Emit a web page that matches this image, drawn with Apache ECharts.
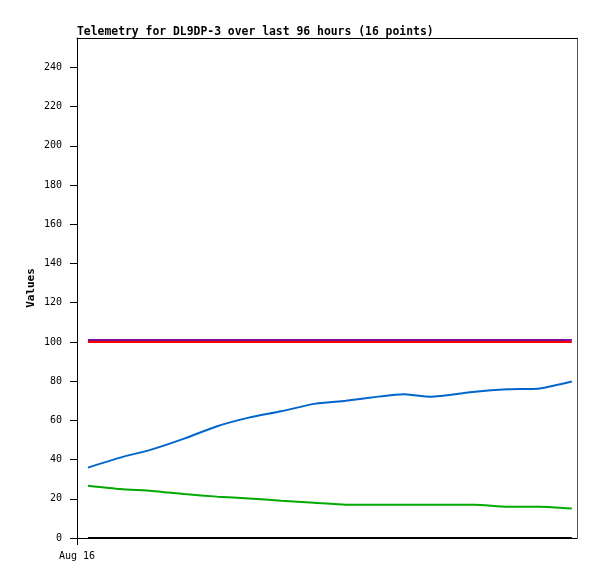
<!DOCTYPE html>
<html>
<head>
<meta charset="utf-8">
<script src="https://cdn.jsdelivr.net/npm/echarts@6/dist/echarts.min.js"></script>
<style>html,body{margin:0;padding:0;background:#fff}#c{width:597px;height:579px}</style>
</head>
<body>
<div id="c"></div>
<script>
// hours since start of window (Aug 16), 16 telemetry points
var hours = [2.1, 8.3, 14.4, 20.7, 26.9, 33.0, 39.2, 45.5, 51.6, 57.8, 62.6, 67.8, 76.4, 82.6, 88.9, 95.0];
var blueValues = [35.9, 41.0, 45.2, 50.8, 57.0, 61.4, 64.6, 68.4, 70.0, 72.1, 73.3, 72.1, 74.6, 75.8, 76.3, 79.8];
var greenValues = [26.7, 25.0, 24.0, 22.4, 21.1, 20.2, 19.0, 18.0, 17.0, 17.0, 17.0, 17.0, 17.0, 16.0, 16.0, 15.0];
var purpleValues = [101, 101, 101, 101, 101, 101, 101, 101, 101, 101, 101, 101, 101, 101, 101, 101];
var redValues = [100, 100, 100, 100, 100, 100, 100, 100, 100, 100, 100, 100, 100, 100, 100, 100];
var blackValues = [0, 0, 0, 0, 0, 0, 0, 0, 0, 0, 0, 0, 0, 0, 0, 0];
var yTicks = [0, 20, 40, 60, 80, 100, 120, 140, 160, 180, 200, 220, 240];
var xTickLabel = 'Aug 16';
var titleText = 'Telemetry for DL9DP-3 over last 96 hours (16 points)';

function pairs(vals) { return hours.map(function (h, i) { return [h, vals[i]]; }); }
function line(name, vals, color) {
  return { name: name, type: 'line', data: pairs(vals), showSymbol: false, symbol: 'none', smooth: 0.2,
    lineStyle: { color: color, width: 2 }, itemStyle: { color: color }, animation: false, z: 3 };
}
var mono = "'DejaVu Sans Mono', 'Liberation Mono', monospace";
var chart = echarts.init(document.getElementById('c'), null, { renderer: 'canvas' });
chart.setOption({
  backgroundColor: '#ffffff',
  animation: false,
  title: { text: titleText, left: 72, top: 22,
    textStyle: { fontFamily: mono, fontSize: 11.4, fontWeight: 'bold', color: '#000' } },
  grid: { left: 77, right: 20, top: 38, bottom: 41, containLabel: false },
  xAxis: [{
    type: 'value', min: 0, max: 96, position: 'bottom',
    axisLine: { show: true, onZero: false, lineStyle: { color: '#000', width: 1 } },
    axisTick: { show: true, customValues: [0], length: 7, lineStyle: { color: '#000' } },
    axisLabel: { show: true, customValues: [0], formatter: function () { return xTickLabel; },
      margin: 13, fontFamily: mono, fontSize: 10, color: '#000' },
    splitLine: { show: false }
  }, {
    type: 'value', min: 0, max: 96, position: 'top',
    axisLine: { show: true, onZero: false, lineStyle: { color: '#000', width: 1 } },
    axisTick: { show: false }, axisLabel: { show: false }, splitLine: { show: false }
  }],
  yAxis: [{
    type: 'value', min: 0, max: 255, position: 'left',
    name: 'Values', nameLocation: 'middle', nameGap: 40, nameRotate: 90, nameMoveOverlap: false,
    nameTextStyle: { fontFamily: mono, fontSize: 11, fontWeight: 'bold', color: '#000' },
    axisLine: { show: true, onZero: false, lineStyle: { color: '#000', width: 1 } },
    axisTick: { show: true, customValues: yTicks, length: 7, lineStyle: { color: '#000' } },
    axisLabel: { show: true, customValues: yTicks, margin: 15, fontFamily: mono, fontSize: 10, color: '#000' },
    splitLine: { show: false }
  }, {
    type: 'value', min: 0, max: 255, position: 'right',
    axisLine: { show: true, onZero: false, lineStyle: { color: '#555555', width: 1 } },
    axisTick: { show: false }, axisLabel: { show: false }, splitLine: { show: false }
  }],
  series: [
    line('Ch5', blackValues, '#000000'),
    line('Ch2', greenValues, '#00aa00'),
    line('Ch1', blueValues, '#0066cc'),
    line('Ch4', purpleValues, '#7a109a'),
    line('Ch3', redValues, '#ff0000')
  ]
});
</script>
</body>
</html>
